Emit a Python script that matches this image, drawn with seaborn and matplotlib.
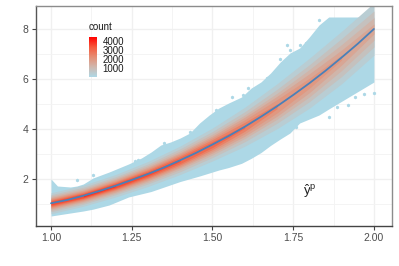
import numpy as np
import matplotlib
matplotlib.use("Agg")
import matplotlib.pyplot as plt
from matplotlib.cm import ScalarMappable
from matplotlib.colors import LinearSegmentedColormap, Normalize
import pandas as pd
import seaborn as sns

# outer edge of the hexagons
upper_x = [1.0, 1.02, 1.06, 1.08, 1.10, 1.13, 1.18, 1.24, 1.28, 1.31, 1.34, 1.37, 1.40, 1.43, 1.46,
           1.49, 1.52, 1.55, 1.59, 1.62, 1.65, 1.68, 1.71, 1.74, 1.77, 1.80, 1.83, 1.86, 2.0]
upper_y = [2.0, 1.72, 1.68, 1.72, 1.80, 2.04, 2.28, 2.60, 2.84, 3.08, 3.36, 3.48, 3.64, 3.84, 4.24,
           4.56, 4.84, 5.04, 5.28, 5.64, 5.88, 6.24, 6.68, 7.04, 7.24, 7.68, 8.16, 8.48, 8.48]
lower_x = [1.0, 1.06, 1.12, 1.18, 1.24, 1.31, 1.40, 1.46, 1.52, 1.58, 1.64, 1.69, 1.74, 1.77, 1.83, 1.89, 1.95, 2.0]
lower_y = [0.52, 0.64, 0.76, 0.96, 1.28, 1.50, 1.90, 2.12, 2.36, 2.56, 2.96, 3.44, 3.84, 4.24, 4.56, 5.04, 5.44, 5.88]

# blue curve
curve_x = [1.0, 1.05, 1.1, 1.15, 1.2, 1.25, 1.3, 1.35, 1.4, 1.45, 1.5,
           1.55, 1.6, 1.65, 1.7, 1.75, 1.8, 1.85, 1.9, 1.95, 2.0]
curve_y = [1.03, 1.16, 1.33, 1.52, 1.73, 1.96, 2.20, 2.46, 2.75, 3.05, 3.38,
           3.72, 4.09, 4.49, 4.91, 5.36, 5.83, 6.33, 6.86, 7.41, 8.0]

# half width of the region above each count, at every other curve point
levels = [400, 800, 1200, 1600, 2000, 2500, 3000, 3500, 4000]
nan = np.nan
hw_400 = [.42, .42, .45, .50, .57, .66, .78, .90, 1.0, 1.05, 1.05]
hw_800 = [.34, .34, .36, .40, .46, .52, .60, .68, .74, .76, .72]
hw_1200 = [.28, .28, .30, .33, .37, .42, .47, .52, .55, .52, .45]
hw_1600 = [.23, .23, .25, .27, .30, .34, .38, .40, .38, .30, .20]
hw_2000 = [.19, .19, .20, .22, .25, .27, .28, .27, .20, .10, nan]
hw_2500 = [.15, .15, .16, .17, .19, .20, .18, .10, nan, nan, nan]
hw_3000 = [.11, .11, .12, .12, .13, .12, .06, nan, nan, nan, nan]
hw_3500 = [.07, .08, .08, .07, .05, nan, nan, nan, nan, nan, nan]
hw_4000 = [nan, .04, .03, nan, nan, nan, nan, nan, nan, nan, nan]
half_widths = [hw_400, hw_800, hw_1200, hw_1600, hw_2000, hw_2500, hw_3000, hw_3500, hw_4000]

# single hexagons off the main cloud
stray_x = [1.73, 1.77, 1.79, 1.74, 1.71, 1.86, 1.95, 2.0, 1.97, 1.94, 1.885, 1.92, 1.83, 1.855,
           1.67, 1.61, 1.56, 1.595, 1.51, 1.35, 1.43, 1.26, 1.13, 1.08, 1.27, 1.50, 1.51, 1.56, 1.76]
stray_y = [7.36, 7.36, 7.44, 7.16, 6.80, 4.48, 5.64, 5.44, 5.40, 5.28, 4.88, 4.96, 8.36, 8.28,
           6.04, 5.64, 5.28, 5.36, 4.76, 3.44, 3.88, 2.72, 2.16, 1.96, 2.76, 2.44, 2.48, 2.92, 4.08]

x_ticks = [1.0, 1.25, 1.5, 1.75, 2.0]
y_ticks = [2, 4, 6, 8]
legend_ticks = [1000, 2000, 3000, 4000]

sns.set_theme(style="whitegrid", rc={"axes.edgecolor": "#555555", "grid.color": "#f0f0f0"})
plt.rcParams["font.family"] = ["Liberation Sans", "DejaVu Sans"]
plt.rcParams["mathtext.fontset"] = "custom"
plt.rcParams["mathtext.it"] = "Liberation Sans"
plt.rcParams["mathtext.rm"] = "Liberation Sans"

cmap = LinearSegmentedColormap.from_list(
    "count", ["#add8e6", "#cfb8ae", "#e58e74", "#f6593c", "#ff0000"])
norm = Normalize(0, 4500)

fig = plt.figure(figsize=(3.99, 2.66), dpi=100)
ax = fig.add_axes([35.5 / 399, 40 / 266, 356.5 / 399, 220 / 266])
ax.set_axisbelow(True)

# hexagon cloud
lo = np.interp(upper_x, lower_x, lower_y)
ax.fill_between(upper_x, lo, upper_y, color="#add8e6", lw=0)
sns.scatterplot(x=stray_x, y=stray_y, color="#add8e6", marker="h", s=7, linewidth=0, ax=ax, zorder=2)

band_x = np.array(curve_x[::2])
band_c = np.array(curve_y[::2])
for level, hw in zip(levels, half_widths):
    hw = np.array(hw)
    ax.fill_between(band_x, band_c - hw, band_c + hw, color=cmap(norm(level)), lw=0, zorder=2.5)

data = pd.DataFrame({"x": curve_x, "y": curve_y})
sns.lineplot(data=data, x="x", y="y", color="#4a80b8", lw=1.3, ax=ax, zorder=3)

ax.text(1.80, 1.18, r"$\hat{y}^p$", fontsize=9.5, color="#222222", ha="center", va="bottom")

ax.set_xlim(0.952, 2.056)
ax.set_ylim(0.12, 8.92)
ax.set_xticks(x_ticks, ["%.2f" % t for t in x_ticks])
ax.set_yticks(y_ticks, [str(t) for t in y_ticks])
ax.set_xticks([1.125, 1.375, 1.625, 1.875], minor=True)
ax.set_yticks([1, 3, 5, 7], minor=True)
ax.grid(True, which="major", lw=1.0, color="#f0f0f0")
ax.grid(True, which="minor", lw=0.6, color="#f3f3f3")
ax.tick_params(which="major", length=3, width=0.8, color="#444444", labelcolor="#4d4d4d",
               labelsize=7.5, pad=2, bottom=True, left=True)
ax.tick_params(which="minor", length=0)
ax.set_xlabel("")
ax.set_ylabel("")
for side, col in [("left", "#555555"), ("bottom", "#444444"), ("top", "#8c8c8c"), ("right", "#8c8c8c")]:
    ax.spines[side].set_color(col)
    ax.spines[side].set_linewidth(1.0)

# count legend sitting inside the panel
cax = fig.add_axes([89 / 399, (266 - 77) / 266, 8 / 399, 40 / 266])
cb = fig.colorbar(ScalarMappable(norm=norm, cmap=cmap), cax=cax, ticks=legend_ticks)
cb.outline.set_visible(False)
cb.ax.tick_params(length=1.5, width=0.4, color="white", direction="in", labelsize=7,
                  labelcolor="#1a1a1a", pad=4, right=True)
cb.ax.grid(False)
fig.text(89 / 399, (266 - 32) / 266, "count", fontsize=7, color="#1a1a1a", ha="left", va="bottom")

fig.savefig("out.png", dpi=100)
